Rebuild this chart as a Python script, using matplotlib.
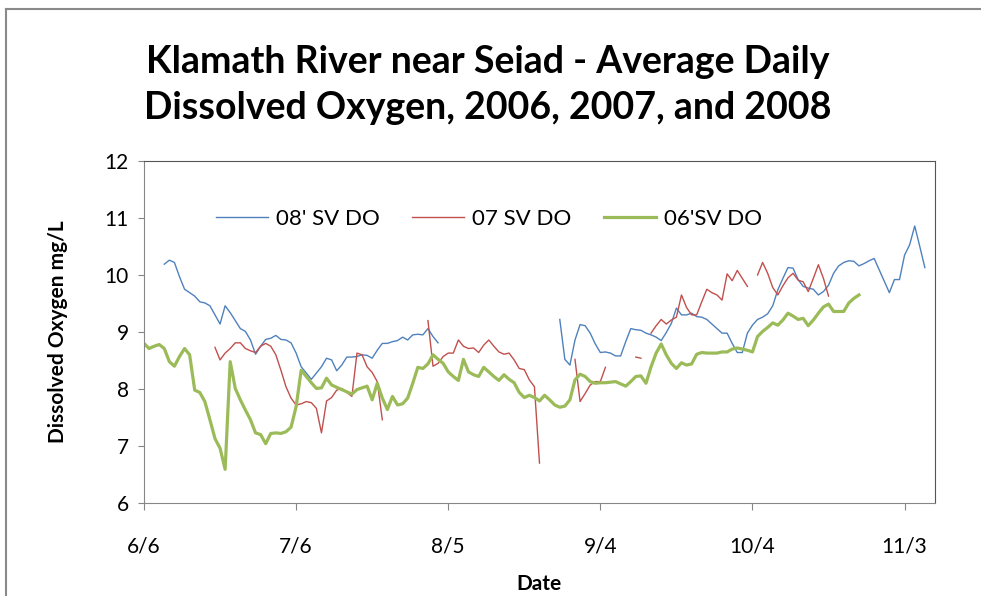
import numpy as np
import matplotlib
matplotlib.use("Agg")
import matplotlib.pyplot as plt
from matplotlib.lines import Line2D

# days counted from 6/6
tick_days = [0, 30, 60, 90, 120, 150]
tick_labels = ["6/6", "7/6", "8/5", "9/4", "10/4", "11/3"]

# 2008 (blue), first value on day 4
sv08_start = 4
sv08 = [10.19, 10.26, 10.22, 9.97, 9.75, 9.69, 9.63, 9.53, 9.51, 9.46,
        9.30, 9.14, 9.46, 9.34, 9.20, 9.06, 9.01, 8.86, 8.61, 8.75,
        8.87, 8.89, 8.94, 8.87, 8.86, 8.81, 8.63, 8.39, 8.28, 8.17,
        8.28, 8.39, 8.54, 8.51, 8.32, 8.42, 8.56, 8.56, 8.57, 8.60,
        8.59, 8.54, 8.68, 8.80, 8.80, 8.83, 8.85, 8.91, 8.86, 8.95,
        8.96, 8.95, 9.06, 8.92, 8.81,
        None, None, None, None, None, None, None, None, None, None,
        None, None, None, None, None, None, None, None, None, None,
        None, None, None,
        9.22, 8.52, 8.42, 8.86, 9.13, 9.11, 8.98, 8.79, 8.64, 8.65,
        8.63, 8.58, 8.58, 8.83, 9.06, 9.04, 9.03, 8.98, 8.95, 8.91,
        8.85, 8.99, 9.15, 9.42, 9.30, 9.30, 9.33, 9.27, 9.26, 9.22,
        9.14, 9.06, 8.98, 8.98, 8.80, 8.64, 8.64, 8.98, 9.12, 9.22,
        9.26, 9.32, 9.46, 9.74, 9.94, 10.13, 10.12, 9.92, 9.80, 9.77,
        9.75, 9.65, 9.71, 9.82, 10.03, 10.16, 10.22, 10.25, 10.24, 10.16,
        10.20, 10.25, 10.29, 10.09, 9.89, 9.69, 9.92, 9.92, 10.35, 10.53,
        10.86, 10.50, 10.13]

# 2007 (red), first value on day 14
sv07_start = 14
sv07 = [8.73, 8.51, 8.63, 8.71, 8.81, 8.81, 8.71, 8.67, 8.64, 8.75,
        8.80, 8.75, 8.60, 8.33, 8.04, 7.84, 7.72, 7.74, 7.78, 7.76,
        7.66, 7.23, 7.79, 7.85, 7.98, 8.01, 7.94, 7.87, 8.63, 8.60,
        8.39, 8.29, 8.13, 7.46,
        None, None, None, None, None, None, None, None,
        9.20, 8.40, 8.45, 8.57, 8.63, 8.63, 8.86, 8.75, 8.71, 8.72,
        8.64, 8.77, 8.86, 8.75, 8.65, 8.61, 8.63, 8.51, 8.36, 8.34,
        8.16, 8.04, 6.70,
        None, None, None, None, None, None,
        8.52, 7.78, 7.92, 8.07, 8.13, 8.13, 8.38,
        None, None, None, None, None,
        8.56, 8.54, None,
        8.98, 9.11, 9.22, 9.14, 9.21, 9.26, 9.65, 9.43, 9.30, 9.30,
        9.53, 9.75, 9.69, 9.65, 9.56, 10.02, 9.90, 10.08, 9.94, 9.80,
        None,
        10.00, 10.22, 10.03, 9.78, 9.65, 9.81, 9.95, 10.03, 9.91, 9.88,
        9.71, 9.94, 10.18, 9.94, 9.63]

# 2006 (green), first value on day 0
sv06_start = 0
sv06 = [8.80, 8.71, 8.75, 8.78, 8.71, 8.48, 8.40, 8.57, 8.71, 8.60,
        7.98, 7.94, 7.78, 7.46, 7.13, 6.96, 6.59, 8.48, 8.01, 7.81,
        7.63, 7.46, 7.23, 7.20, 7.04, 7.22, 7.23, 7.22, 7.25, 7.33,
        7.69, 8.33, 8.22, 8.11, 8.01, 8.02, 8.19, 8.07, 8.03, 7.99,
        7.95, 7.91, 7.99, 8.02, 8.05, 7.81, 8.10, 7.84, 7.64, 7.87,
        7.72, 7.74, 7.84, 8.10, 8.38, 8.36, 8.44, 8.60, 8.52, 8.45,
        8.30, 8.22, 8.15, 8.52, 8.30, 8.25, 8.22, 8.38, 8.30, 8.22,
        8.15, 8.25, 8.17, 8.11, 7.94, 7.85, 7.89, 7.85, 7.79, 7.89,
        7.81, 7.72, 7.68, 7.70, 7.81, 8.16, 8.26, 8.22, 8.13, 8.10,
        8.11, 8.11, 8.12, 8.13, 8.09, 8.05, 8.13, 8.22, 8.23, 8.10,
        8.39, 8.63, 8.79, 8.60, 8.45, 8.36, 8.46, 8.42, 8.44, 8.61,
        8.64, 8.63, 8.63, 8.63, 8.65, 8.65, 8.70, 8.72, 8.70, 8.68,
        8.65, 8.92, 9.01, 9.08, 9.16, 9.12, 9.21, 9.33, 9.28, 9.22,
        9.24, 9.11, 9.21, 9.33, 9.44, 9.49, 9.36, 9.36, 9.36, 9.51,
        9.59, 9.65]


def series(start, vals):
    y = np.array(vals, dtype=float)
    return np.arange(start, start + len(y)), y


plt.rcParams['font.family'] = ['Lato', 'DejaVu Sans']

fig = plt.figure(figsize=(9.81, 5.96), dpi=100)
ax = fig.add_axes([144 / 981, 1 - 503 / 596, (935 - 144) / 981, (503 - 161) / 596])

# outer chart frame (left and top edges only are visible)
fx, fy = 5.5 / 981, 1 - 8.5 / 596
fig.lines.append(Line2D([fx, fx], [0, fy], transform=fig.transFigure, color='#8a8a8a', lw=1.5))
fig.lines.append(Line2D([fx, 1], [fy, fy], transform=fig.transFigure, color='#8a8a8a', lw=1.5))

x8, y8 = series(sv08_start, sv08)
x7, y7 = series(sv07_start, sv07)
x6, y6 = series(sv06_start, sv06)
ax.plot(x8, y8, color='#4F81BD', lw=1.0, label="08' SV DO")
ax.plot(x7, y7, color='#C0504D', lw=1.0, label="07 SV DO")
ax.plot(x6, y6, color='#9BBB59', lw=2.3, label="06'SV DO")

ax.set_xlim(0, 156)
ax.set_ylim(6, 12)
ax.set_xticks(tick_days)
ax.set_xticklabels(tick_labels)
ax.set_yticks(range(6, 13))
ax.tick_params(axis='x', direction='out', length=5, color='#868686',
               labelsize=15, pad=19)
ax.tick_params(axis='y', direction='out', length=4, color='#868686',
               labelsize=15, pad=7)
for s in ['left', 'bottom']:
    ax.spines[s].set_color('#868686')
for s in ['top', 'right']:
    ax.spines[s].set_color('#555555')

ax.set_ylabel('Dissolved Oxygen mg/L', fontsize=15, fontweight='bold', labelpad=26)
ax.set_xlabel('Date', fontsize=15, fontweight='bold', labelpad=13)

fig.text(0.497, 0.857, 'Klamath River near Seiad - Average Daily\nDissolved Oxygen, 2006, 2007, and 2008',
         ha='center', va='center', fontsize=27, fontweight='bold', linespacing=1.42)

ax.legend(loc='center left', bbox_to_anchor=(0.066, 0.83), ncol=3, frameon=False,
          fontsize=16, handlelength=2.35, columnspacing=1.45, handletextpad=0.35)

plt.savefig('out.png', dpi=100)
